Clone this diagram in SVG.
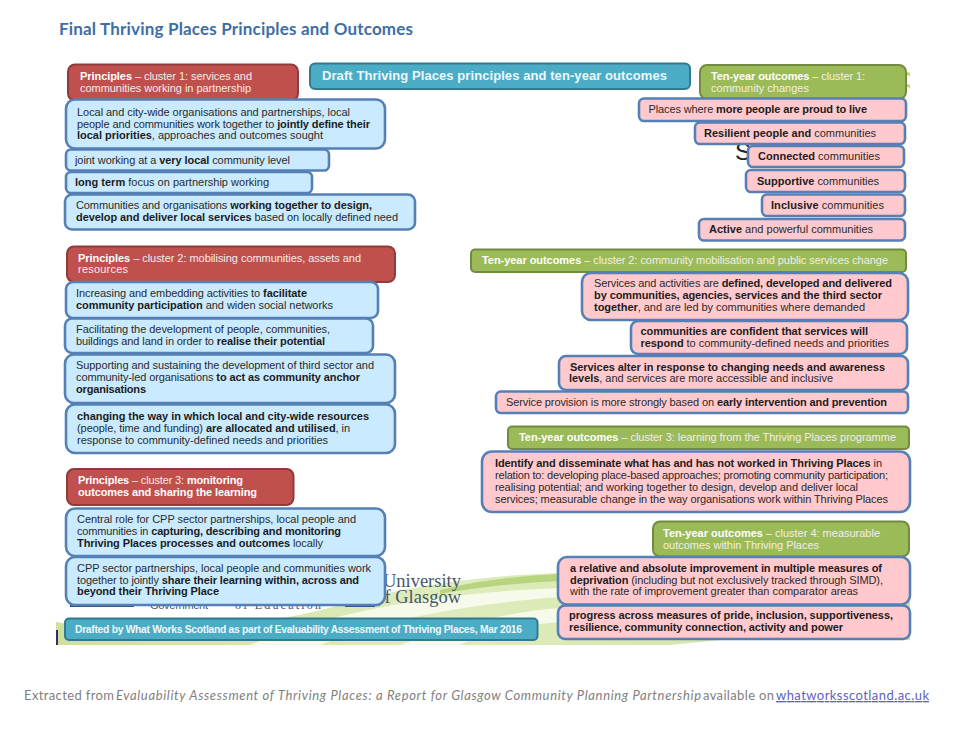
<svg xmlns="http://www.w3.org/2000/svg" width="959" height="733" viewBox="0 0 959 733">
<style>
text{font-family:"Liberation Sans",Arial,sans-serif;font-size:11px;fill:#2a2a2a;white-space:pre}
.b{font-weight:700;fill:#1c1c1c}
.red rect{fill:#c0504d;stroke:#8f3b39;stroke-width:2}
.blue rect{fill:#c9eaff;stroke:#5580b6;stroke-width:2.6}
.pink rect{fill:#ffc9cd;stroke:#5580b6;stroke-width:2.6}
.green rect{fill:#9bbb59;stroke:#728a41;stroke-width:2}
.teal rect{fill:#4bacc6;stroke:#33798c;stroke-width:2}
.red text,.green text{fill:#f4ecea}
.red .b,.green .b{fill:#fff}
.teal text{fill:#eef8fb;font-weight:700}
.bg{font-family:"Liberation Serif",serif;fill:#46566a}
.foot{font-family:Lato,"Liberation Sans",sans-serif;font-size:13px;fill:#808080}
</style>
<defs>
<linearGradient id="swoosh" x1="0" x2="1" y1="0" y2="0"><stop offset="0" stop-color="#cfe09a"/><stop offset="0.45" stop-color="#dfecbe"/><stop offset="1" stop-color="#cfe3a0"/></linearGradient>
</defs>
<rect width="959" height="733" fill="#fff"/>
<g id="background">
<path d="M56 622C150 640 270 625 340 605C400 588 470 576 560 573L910 573L910 640L720 640L670 645L56 645Z" fill="url(#swoosh)"/>
<path d="M250 645C330 612 440 592 560 588L560 597C450 605 370 625 320 645Z" fill="#f6faeb"/>
<path d="M400 645C450 627 500 613 560 608L560 622C510 626 480 635 460 645Z" fill="#f6faeb"/>
<path d="M440 590C480 580 520 576 560 574L560 581C520 583 480 587 440 594Z" fill="#b9d47e"/>
<path d="M907 72l3 1v3l-3-1zM907 84l3 1v3l-3-1z" fill="#c3d55a"/>
<rect x="56" y="630" width="2" height="15" fill="#3b2a6b"/>
<rect x="70" y="603" width="64" height="4" fill="#2b4a80"/>
<rect x="345" y="604" width="30" height="3" fill="#2b4a80"/>
<text class="bg" x="461" y="587" text-anchor="end" style="font-size:18.500px">University</text>
<text class="bg" x="461" y="603" text-anchor="end" style="font-size:18.500px">of Glasgow</text>
<text class="bg" x="150" y="609" textLength="58" style="font-size:11px;font-family:'Liberation Sans',sans-serif">Government</text>
<text class="bg" x="235" y="609" textLength="86" style="font-size:12px">of Education</text>
<text x="735" y="160" style="font-size:24px;fill:#222">S</text>
</g>
<g id="title"><text x="59" y="35" textLength="354" style="font-family:Lato,'Liberation Sans',sans-serif;font-size:17px;font-weight:700;fill:#3d6ea6">Final Thriving Places Principles and Outcomes</text></g>

<g id="principles-1-header" class="red"><rect x="68" y="64.500" width="230" height="36" rx="7"/>
<text x="80" y="80" textLength="172"><tspan class="b">Principles</tspan> – cluster 1: services and</text>
<text x="80" y="92" textLength="171">communities working in partnership</text></g>
<g id="principle-1a" class="blue"><rect x="66" y="99.500" width="319" height="49" rx="9"/>
<text x="77" y="116" textLength="273">Local and city-wide organisations and partnerships, local</text>
<text x="77" y="127.500" textLength="293">people and communities work together to <tspan class="b">jointly define their</tspan></text>
<text x="77" y="139" textLength="246"><tspan class="b">local priorities</tspan>, approaches and outcomes sought</text></g>
<g id="principle-1b" class="blue"><rect x="66" y="149.500" width="263" height="21" rx="5"/>
<text x="75" y="163.500" textLength="215">joint working at a <tspan class="b">very local</tspan> community level</text></g>
<g id="principle-1c" class="blue"><rect x="66" y="172" width="246" height="21" rx="5"/>
<text x="75" y="185.500" textLength="194"><tspan class="b">long term</tspan> focus on partnership working</text></g>
<g id="principle-1d" class="blue"><rect x="65" y="194.500" width="350" height="35" rx="7"/>
<text x="76" y="209" textLength="296">Communities and organisations <tspan class="b">working together to design,</tspan></text>
<text x="76" y="221" textLength="322"><tspan class="b">develop and deliver local services</tspan> based on locally defined need</text></g>

<g id="principles-2-header" class="red"><rect x="67" y="246.500" width="328" height="35.500" rx="7"/>
<text x="78" y="262" textLength="283"><tspan class="b">Principles</tspan> – cluster 2: mobilising communities, assets and</text>
<text x="78" y="273" textLength="50">resources</text></g>
<g id="principle-2a" class="blue"><rect x="66" y="282" width="312" height="36" rx="7"/>
<text x="76" y="297" textLength="231">Increasing and embedding activities to <tspan class="b">facilitate</tspan></text>
<text x="76" y="308.500" textLength="257"><tspan class="b">community participation</tspan> and widen social networks</text></g>
<g id="principle-2b" class="blue"><rect x="65" y="318.500" width="308" height="34.500" rx="7"/>
<text x="76" y="333" textLength="254">Facilitating the development of people, communities,</text>
<text x="76" y="345" textLength="249">buildings and land in order to <tspan class="b">realise their potential</tspan></text></g>
<g id="principle-2c" class="blue"><rect x="65" y="354.500" width="330" height="48.500" rx="9"/>
<text x="76" y="369" textLength="298">Supporting and sustaining the development of third sector and</text>
<text x="76" y="381" textLength="284">community-led organisations <tspan class="b">to act as community anchor</tspan></text>
<text x="76" y="393" textLength="70" class="b">organisations</text></g>
<g id="principle-2d" class="blue"><rect x="66" y="404.500" width="329" height="48.500" rx="9"/>
<text x="77" y="420" textLength="292" class="b">changing the way in which local and city-wide resources</text>
<text x="77" y="432" textLength="273">(people, time and funding) <tspan class="b">are allocated and utilised</tspan>, in</text>
<text x="77" y="443.500" textLength="251">response to community-defined needs and priorities</text></g>

<g id="principles-3-header" class="red"><rect x="67" y="469" width="226.500" height="36" rx="7"/>
<text x="78" y="484" textLength="165"><tspan class="b">Principles</tspan> – cluster 3: <tspan class="b">monitoring</tspan></text>
<text x="78" y="496" textLength="179" class="b">outcomes and sharing the learning</text></g>
<g id="principle-3a" class="blue"><rect x="66" y="508.500" width="319" height="47.500" rx="9"/>
<text x="77" y="523" textLength="279">Central role for CPP sector partnerships, local people and</text>
<text x="77" y="535" textLength="264">communities in <tspan class="b">capturing, describing and monitoring</tspan></text>
<text x="77" y="546.500" textLength="246"><tspan class="b">Thriving Places processes and outcomes</tspan> locally</text></g>
<g id="principle-3b" class="blue"><rect x="66" y="557" width="319" height="48" rx="9"/>
<text x="77" y="572" textLength="294">CPP sector partnerships, local people and communities work</text>
<text x="77" y="583.500" textLength="282">together to jointly <tspan class="b">share their learning within, across and</tspan></text>
<text x="77" y="595" textLength="142" class="b">beyond their Thriving Place</text></g>

<g id="source-note" class="teal"><rect x="65" y="618.500" width="472.500" height="21.500" rx="4"/>
<text x="75" y="633" textLength="447" style="font-size:10.300px">Drafted by What Works Scotland as part of Evaluability Assessment of Thriving Places, Mar 2016</text></g>
<g id="main-heading" class="teal"><rect x="310" y="63.500" width="380" height="25.500" rx="5"/>
<text x="322" y="80" textLength="345" style="font-size:13px">Draft Thriving Places principles and ten-year outcomes</text></g>

<g id="outcomes-1-header" class="green"><rect x="700" y="65" width="206" height="34" rx="7"/>
<text x="711" y="80" textLength="154"><tspan class="b">Ten-year outcomes</tspan> – cluster 1:</text>
<text x="711" y="92" textLength="98">community changes</text></g>
<g id="outcome-1a" class="pink"><rect x="639" y="98.500" width="267" height="22.500" rx="5"/>
<text x="648.500" y="113" textLength="218.500">Places where <tspan class="b">more people are proud to live</tspan></text></g>
<g id="outcome-1b" class="pink"><rect x="695" y="122.500" width="210" height="21.500" rx="5"/>
<text x="704" y="137" textLength="172"><tspan class="b">Resilient people and</tspan> communities</text></g>
<g id="outcome-1c" class="pink"><rect x="748" y="146" width="156" height="21" rx="5"/>
<text x="758" y="160" textLength="122"><tspan class="b">Connected</tspan> communities</text></g>
<g id="outcome-1d" class="pink"><rect x="746" y="170" width="159" height="22" rx="5"/>
<text x="757" y="184.500" textLength="122"><tspan class="b">Supportive</tspan> communities</text></g>
<g id="outcome-1e" class="pink"><rect x="762" y="194.500" width="143" height="21.500" rx="5"/>
<text x="771" y="208.500" textLength="113"><tspan class="b">Inclusive</tspan> communities</text></g>
<g id="outcome-1f" class="pink"><rect x="699" y="219" width="206" height="21.500" rx="5"/>
<text x="709" y="233" textLength="164"><tspan class="b">Active</tspan> and powerful communities</text></g>

<g id="outcomes-2-header" class="green"><rect x="471" y="249.500" width="435" height="22.500" rx="4"/>
<text x="482" y="264" textLength="406"><tspan class="b">Ten-year outcomes</tspan> – cluster 2: community mobilisation and public services change</text></g>
<g id="outcome-2a" class="pink"><rect x="582" y="273" width="326" height="47" rx="9"/>
<text x="594" y="287" textLength="298">Services and activities are <tspan class="b">defined, developed and delivered</tspan></text>
<text x="594" y="299" textLength="288" class="b">by communities, agencies, services and the third sector</text>
<text x="594" y="310.500" textLength="271"><tspan class="b">together</tspan>, and are led by communities where demanded</text></g>
<g id="outcome-2b" class="pink"><rect x="631" y="321" width="276" height="33" rx="7"/>
<text x="640.500" y="335" textLength="227.500" class="b">communities are confident that services will</text>
<text x="640.500" y="347" textLength="248.500"><tspan class="b">respond</tspan> to community-defined needs and priorities</text></g>
<g id="outcome-2c" class="pink"><rect x="559" y="356" width="349" height="34" rx="7"/>
<text x="570" y="370.500" textLength="315" class="b">Services alter in response to changing needs and awareness</text>
<text x="569" y="382" textLength="264"><tspan class="b">levels</tspan>, and services are more accessible and inclusive</text></g>
<g id="outcome-2d" class="pink"><rect x="496" y="391.500" width="412" height="21.500" rx="5"/>
<text x="506" y="406" textLength="381">Service provision is more strongly based on <tspan class="b">early intervention and prevention</tspan></text></g>

<g id="outcomes-3-header" class="green"><rect x="508" y="426.500" width="401" height="22.500" rx="4"/>
<text x="519" y="441" textLength="377"><tspan class="b">Ten-year outcomes</tspan> – cluster 3: learning from the Thriving Places programme</text></g>
<g id="outcome-3a" class="pink"><rect x="482" y="451.500" width="428" height="60.500" rx="10"/>
<text x="495" y="467" textLength="387"><tspan class="b">Identify and disseminate what has and has not worked in Thriving Places</tspan> in</text>
<text x="495" y="479" textLength="393">relation to: developing place-based approaches; promoting community participation;</text>
<text x="495" y="491" textLength="363">realising potential; and working together to design, develop and deliver local</text>
<text x="495" y="503" textLength="393">services; measurable change in the way organisations work within Thriving Places</text></g>

<g id="outcomes-4-header" class="green"><rect x="653" y="521.500" width="256" height="35" rx="7"/>
<text x="663" y="537" textLength="217"><tspan class="b">Ten-year outcomes</tspan> – cluster 4: measurable</text>
<text x="663" y="548.500" textLength="156">outcomes within Thriving Places</text></g>
<g id="outcome-4a" class="pink"><rect x="558" y="557" width="352" height="47.500" rx="9"/>
<text x="570" y="572" textLength="312" class="b">a relative and absolute improvement in multiple measures of</text>
<text x="570" y="583.500" textLength="313"><tspan class="b">deprivation</tspan> (including but not exclusively tracked through SIMD),</text>
<text x="570" y="595" textLength="288">with the rate of improvement greater than comparator areas</text></g>
<g id="outcome-4b" class="pink"><rect x="558" y="605.500" width="352" height="33.500" rx="7"/>
<text x="569" y="619" textLength="324" class="b">progress across measures of pride, inclusion, supportiveness,</text>
<text x="569" y="630.500" textLength="274" class="b">resilience, community connection, activity and power</text></g>

<g id="footer">
<text class="foot" x="24" y="700" textLength="90">Extracted from</text>
<text class="foot" x="116" y="700" textLength="585" font-style="italic">Evaluability Assessment of Thriving Places: a Report for Glasgow Community Planning Partnership</text>
<text class="foot" x="703" y="700" textLength="71">available on</text>
<text class="foot" x="776" y="700" textLength="153" text-decoration="underline" style="fill:#5f5fc0">whatworksscotland.ac.uk</text>
</g>
</svg>
